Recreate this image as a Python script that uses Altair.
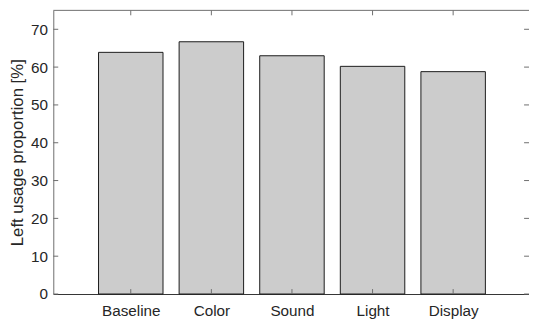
import altair as alt
import pandas as pd

categories = ["Baseline", "Color", "Sound", "Light", "Display"]
positions = [1, 2, 3, 4, 5]
values = [63.9, 66.7, 63.0, 60.2, 58.8]
y_ticks = [0, 10, 20, 30, 40, 50, 60, 70]

W = 483
H = 288
FONT = "Liberation Sans"
AXIS_C = "#6e6e6e"
TEXT_C = "#262626"

bars_df = pd.DataFrame({"cat": categories, "pos": positions, "value": values})
yt_df = pd.DataFrame({"t": y_ticks})
xt_df = pd.DataFrame({"pos": positions})
one_df = pd.DataFrame({"a": [0]})

xscale = alt.Scale(domain=[0.1, 5.88], nice=False, zero=False)
yscale = alt.Scale(domain=[0, 75], nice=False)

label_expr = "[" + ",".join("'" + c + "'" for c in categories) + "][datum.value - 1]"

x_axis = alt.Axis(
    values=positions, labelExpr=label_expr, title=None, tickSize=0, grid=False,
    domainColor="#333333", domainWidth=1, labelFont=FONT, labelFontSize=15.5,
    labelColor=TEXT_C, labelPadding=10)
y_axis = alt.Axis(
    values=y_ticks, title="Left usage proportion [%]", tickSize=0, grid=False,
    domainColor=AXIS_C, domainWidth=1, labelFont=FONT, labelFontSize=15.5,
    labelColor=TEXT_C, labelPadding=6,
    titleFont=FONT, titleFontSize=17, titleFontWeight="normal", titleColor=TEXT_C,
    titleX=-31, titleY=H / 2, titleAngle=270, titleBaseline="alphabetic",
    titleAlign="center")

bars = alt.Chart(bars_df).transform_calculate(
    x0="datum.pos - 0.4", x1="datum.pos + 0.4"
).mark_bar(fill="#cccccc", stroke="#1a1a1a", strokeWidth=1, orient="vertical").encode(
    x=alt.X("x0:Q", scale=xscale, axis=x_axis),
    x2="x1:Q",
    y=alt.Y("value:Q", scale=yscale, axis=y_axis),
    y2=alt.datum(0),
)

yl = alt.Chart(yt_df).mark_rule(color=AXIS_C, strokeWidth=1).encode(
    y=alt.Y("t:Q", scale=yscale, axis=y_axis), x=alt.value(0), x2=alt.value(5))
yr = alt.Chart(yt_df).mark_rule(color=AXIS_C, strokeWidth=1).encode(
    y=alt.Y("t:Q", scale=yscale, axis=y_axis), x=alt.value(W - 5), x2=alt.value(W))
xb = alt.Chart(xt_df).mark_rule(color=AXIS_C, strokeWidth=1).encode(
    x=alt.X("pos:Q", scale=xscale, axis=x_axis), y=alt.value(H - 5), y2=alt.value(H))
xt = alt.Chart(xt_df).mark_rule(color=AXIS_C, strokeWidth=1).encode(
    x=alt.X("pos:Q", scale=xscale, axis=x_axis), y=alt.value(0), y2=alt.value(5))
top = alt.Chart(one_df).mark_rule(color=AXIS_C, strokeWidth=1).encode(
    y=alt.value(0), x=alt.value(0), x2=alt.value(W))

chart = alt.layer(bars, yl, yr, xb, xt, top).properties(
    width=W, height=H,
    autosize=alt.AutoSizeParams(type="none"),
    padding={"left": 46, "top": 0, "right": 0, "bottom": 26},
).configure_view(strokeWidth=0)

chart.save("out.html", embed_options={"renderer": "svg", "actions": False})
